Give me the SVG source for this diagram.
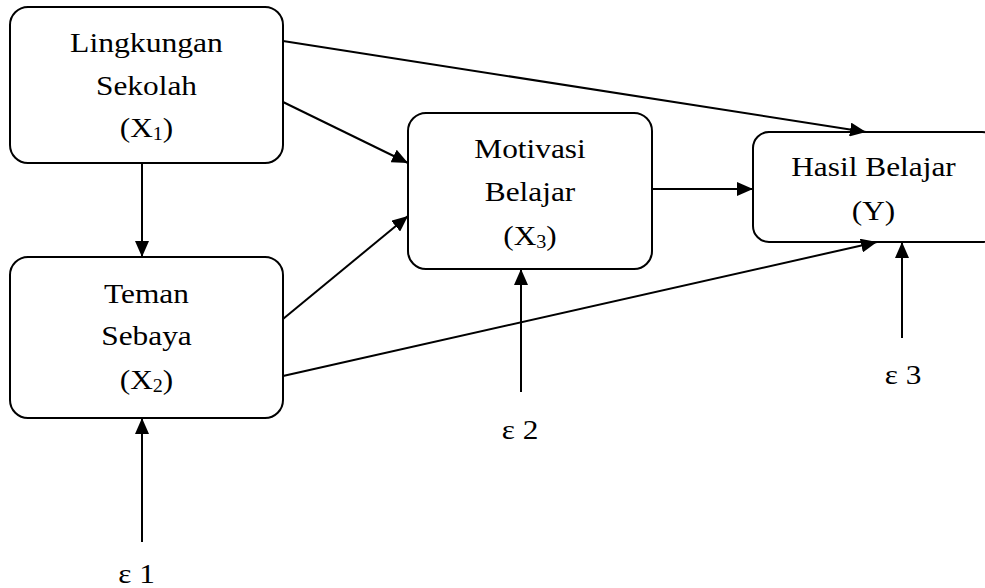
<svg xmlns="http://www.w3.org/2000/svg" width="985" height="588" viewBox="0 0 985 588">
<style>
.box{fill:#fff;stroke:#000;stroke-width:2}
.t{font-family:"Liberation Serif","Times New Roman",serif;font-size:28px;fill:#000;text-anchor:middle}
.sub{font-size:18px}
.c line{stroke:#000;stroke-width:2;marker-end:url(#ah)}
</style>
<defs>
<marker id="ah" viewBox="0 0 16 14" refX="16" refY="7" markerWidth="16" markerHeight="14" markerUnits="userSpaceOnUse" orient="auto">
<path d="M0,0 L16,7 L0,14 Z" fill="#000"/>
</marker>
</defs>
<rect width="985" height="588" fill="#fff"/>
<g id="x1">
<rect class="box" x="10" y="7" width="273" height="156" rx="18"/>
<text class="t" transform="translate(146.5,52) scale(1.13,1)">Lingkungan</text>
<text class="t" transform="translate(146.5,95) scale(1.12,1)">Sekolah</text>
<text class="t" transform="translate(146.5,137) scale(1.12,1)">(X<tspan class="sub" dy="3">1</tspan><tspan dy="-3">)</tspan></text>
</g>
<g id="x2">
<rect class="box" x="10" y="257" width="273" height="161" rx="18"/>
<text class="t" transform="translate(146.5,303) scale(1.12,1)">Teman</text>
<text class="t" transform="translate(146.5,345) scale(1.12,1)">Sebaya</text>
<text class="t" transform="translate(146.5,389) scale(1.12,1)">(X<tspan class="sub" dy="3">2</tspan><tspan dy="-3">)</tspan></text>
</g>
<g id="x3">
<rect class="box" x="408" y="113" width="244" height="156" rx="18"/>
<text class="t" transform="translate(530,158) scale(1.12,1)">Motivasi</text>
<text class="t" transform="translate(530,201) scale(1.12,1)">Belajar</text>
<text class="t" transform="translate(530,245) scale(1.12,1)">(X<tspan class="sub" dy="3">3</tspan><tspan dy="-3">)</tspan></text>
</g>
<g id="y">
<rect class="box" x="753" y="132" width="245" height="110" rx="16"/>
<text class="t" transform="translate(873.5,176) scale(1.12,1)">Hasil Belajar</text>
<text class="t" transform="translate(873.5,220) scale(1.12,1)">(Y)</text>
</g>
<g id="e1"><text class="t" transform="translate(136.5,583) scale(1.12,1)">ε 1</text></g>
<g id="e2"><text class="t" transform="translate(520,439) scale(1.12,1)">ε 2</text></g>
<g id="e3"><text class="t" transform="translate(903,384) scale(1.12,1)">ε 3</text></g>
<g id="connectors" class="c">
<line x1="142" y1="163" x2="142" y2="257"/>
<line x1="283" y1="102" x2="408" y2="163"/>
<line x1="283" y1="41" x2="866" y2="132"/>
<line x1="283" y1="319" x2="408" y2="216"/>
<line x1="283" y1="376" x2="877" y2="242"/>
<line x1="652" y1="189" x2="753" y2="189"/>
<line x1="521" y1="392" x2="521" y2="269"/>
<line x1="902" y1="338" x2="902" y2="242"/>
<line x1="142" y1="542" x2="142" y2="418"/>
</g>
</svg>
